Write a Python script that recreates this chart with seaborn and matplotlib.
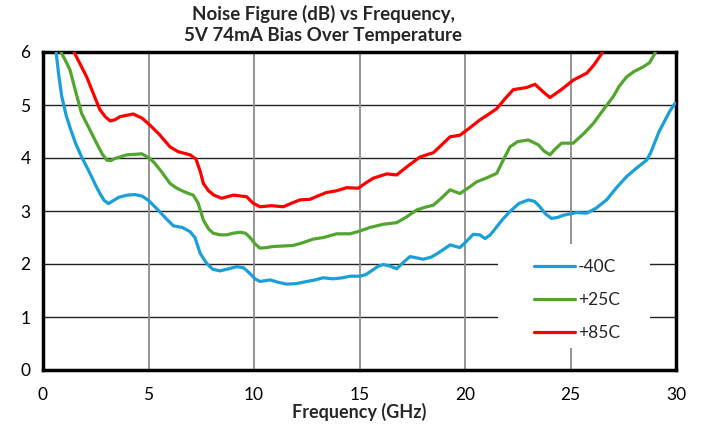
import numpy as np
import pandas as pd
import matplotlib.pyplot as plt
import matplotlib.patches as mpatches
import seaborn as sns

# ------------------------------------------------------------
# data (GHz, dB)
# ------------------------------------------------------------
freq_m40 = [0.55, 0.62, 0.75, 0.89, 1.1, 1.3, 1.55, 1.83, 2.05, 2.3, 2.5, 2.7, 2.9,
            3.1, 3.35, 3.6, 4.0, 4.36, 4.7, 5.0, 5.25, 5.5, 5.85, 6.18, 6.6,
            6.97, 7.2, 7.45, 7.76, 8.05, 8.39, 8.8, 9.18, 9.5, 9.81, 10.05, 10.28,
            10.76, 11.1, 11.55, 12.0, 12.5, 12.9, 13.28, 13.76, 14.2, 14.55, 15.02,
            15.3, 15.6, 15.9, 16.13, 16.45, 16.76, 17.05, 17.39, 18.02, 18.4, 18.7,
            19.0, 19.29, 19.76, 20.05, 20.39, 20.7, 20.95, 21.2, 21.5, 21.8, 22.13,
            22.55, 23.0, 23.3, 23.55, 23.8, 24.1, 24.4, 24.66, 25.29, 25.77, 26.2,
            26.71, 27.2, 27.66, 28.1, 28.61, 28.8, 29.0, 29.2, 29.4, 29.7, 29.95]
nf_m40 = [6.4, 6.0, 5.55, 5.16, 4.8, 4.55, 4.27, 4.02, 3.85, 3.65, 3.48, 3.33, 3.2,
          3.14, 3.2, 3.26, 3.3, 3.31, 3.28, 3.2, 3.1, 3.0, 2.85, 2.72, 2.69,
          2.61, 2.5, 2.2, 2.01, 1.9, 1.87, 1.91, 1.95, 1.93, 1.82, 1.72, 1.67,
          1.70, 1.66, 1.62, 1.63, 1.67, 1.7, 1.74, 1.72, 1.74, 1.77, 1.77,
          1.8, 1.88, 1.96, 1.99, 1.96, 1.91, 2.02, 2.14, 2.09, 2.13, 2.2,
          2.28, 2.36, 2.31, 2.42, 2.56, 2.55, 2.48, 2.55, 2.7, 2.85, 2.99,
          3.14, 3.21, 3.18, 3.08, 2.95, 2.86, 2.88, 2.92, 2.97, 2.96, 3.05,
          3.21, 3.45, 3.65, 3.8, 3.96, 4.1, 4.3, 4.5, 4.65, 4.88, 5.03]

freq_p25 = [0.75, 0.85, 1.05, 1.28, 1.55, 1.83, 2.2, 2.54, 2.8, 3.02, 3.2, 3.41,
            3.97, 4.4, 4.68, 5.07, 5.3, 5.6, 6.02, 6.3, 6.6, 6.9, 7.12, 7.35,
            7.6, 7.85, 8.07, 8.4, 8.71, 9.0, 9.34, 9.6, 9.81, 10.05, 10.28, 10.6,
            10.91, 11.4, 11.86, 12.3, 12.81, 13.3, 13.92, 14.55, 15.0, 15.5, 16.13,
            16.76, 17.2, 17.71, 18.1, 18.5, 18.9, 19.29, 19.76, 20.1, 20.55, 21.0,
            21.5, 21.8, 22.13, 22.5, 23.0, 23.47, 23.75, 24.03, 24.3, 24.58, 25.13,
            25.6, 26.08, 26.5, 27.03, 27.3, 27.66, 28.0, 28.45, 28.75, 29.0, 29.1]
nf_p25 = [6.3, 6.0, 5.85, 5.66, 5.25, 4.84, 4.55, 4.28, 4.08, 3.96, 3.95, 3.99,
          4.06, 4.07, 4.08, 3.99, 3.9, 3.75, 3.52, 3.44, 3.38, 3.33, 3.30, 3.15,
          2.83, 2.66, 2.58, 2.55, 2.55, 2.58, 2.60, 2.58, 2.50, 2.38, 2.30, 2.31,
          2.33, 2.34, 2.35, 2.4, 2.47, 2.5, 2.57, 2.57, 2.62, 2.69, 2.75,
          2.78, 2.88, 3.02, 3.07, 3.11, 3.25, 3.40, 3.33, 3.42, 3.55, 3.62,
          3.71, 3.95, 4.21, 4.31, 4.34, 4.25, 4.13, 4.06, 4.18, 4.28, 4.28,
          4.45, 4.65, 4.88, 5.16, 5.35, 5.53, 5.63, 5.72, 5.8, 5.97, 6.2]

freq_p85 = [1.35, 1.47, 1.75, 2.07, 2.4, 2.7, 2.95, 3.18, 3.4, 3.65, 4.28, 4.7,
            5.07, 5.5, 6.02, 6.4, 6.97, 7.25, 7.45, 7.6, 7.85, 8.1, 8.47, 9.02,
            9.65, 9.95, 10.28, 10.84, 11.39, 11.8, 12.18, 12.65, 13.0, 13.44, 13.9,
            14.39, 14.94, 15.3, 15.66, 16.29, 16.76, 17.3, 17.87, 18.5, 18.9, 19.29,
            19.76, 20.2, 20.71, 21.1, 21.5, 21.9, 22.29, 22.92, 23.32, 23.7, 24.03,
            24.6, 25.13, 25.77, 26.1, 26.48, 26.6]
nf_p85 = [6.3, 6.0, 5.78, 5.53, 5.2, 4.91, 4.78, 4.70, 4.72, 4.78, 4.83, 4.75,
          4.62, 4.45, 4.21, 4.12, 4.06, 3.98, 3.75, 3.52, 3.38, 3.30, 3.24, 3.30,
          3.27, 3.15, 3.08, 3.10, 3.08, 3.15, 3.21, 3.22, 3.28, 3.35, 3.38,
          3.44, 3.43, 3.53, 3.62, 3.70, 3.68, 3.85, 4.02, 4.10, 4.25, 4.40,
          4.43, 4.56, 4.72, 4.82, 4.93, 5.12, 5.29, 5.33, 5.39, 5.25, 5.14,
          5.3, 5.47, 5.60, 5.75, 5.97, 6.1]

labels = ['-40C', '+25C', '+85C']
colors = ['#1a9fd9', '#52a52e', '#ff0000']

# long-form tablo
df = pd.concat([
    pd.DataFrame({'freq': freq_m40, 'nf': nf_m40, 'temp': labels[0]}),
    pd.DataFrame({'freq': freq_p25, 'nf': nf_p25, 'temp': labels[1]}),
    pd.DataFrame({'freq': freq_p85, 'nf': nf_p85, 'temp': labels[2]}),
])

# ------------------------------------------------------------
# plot
# ------------------------------------------------------------
sns.set_style('white')
plt.rcParams['font.family'] = ['Lato', 'DejaVu Sans']

fig = plt.figure(figsize=(7.01, 4.32), dpi=100)
ax = fig.add_axes([43 / 701, 1 - 370 / 432, 633 / 701, 318 / 432])

# grid
for yv in range(0, 7):
    ax.axhline(yv, color='#222222', lw=1.0, zorder=1)
for xv in range(5, 30, 5):
    ax.axvline(xv, color='#8c8c8c', lw=1.3, zorder=1)

sns.lineplot(data=df, x='freq', y='nf', hue='temp', palette=colors,
             hue_order=labels, lw=2.3, ax=ax, legend=False, zorder=3,
             estimator=None, sort=False)

ax.set_xlim(0, 30)
ax.set_ylim(0, 6)
ax.set_xticks(range(0, 31, 5))
ax.set_yticks(range(0, 7))
ax.tick_params(length=0, labelsize=12.5, colors='black', pad=9)
ax.tick_params(axis='x', pad=12)
ax.set_xlabel('Frequency (GHz)', fontsize=13, fontweight='bold', labelpad=0)
ax.set_ylabel('')

for side in ['left', 'bottom', 'top', 'right']:
    ax.spines[side].set_visible(True)
    ax.spines[side].set_color('black')
    ax.spines[side].set_linewidth(2.5)

# legend alanı beyaz kutu
ax.add_patch(mpatches.Rectangle(((498 - 43) / 633, (370 - 348) / 318),
                                152 / 633, 104 / 318, transform=ax.transAxes,
                                facecolor='white', edgecolor='none', zorder=2))

handles = [plt.Line2D([], [], color=c, lw=2.3) for c in colors]
leg = ax.legend(handles, labels, loc='upper left',
                bbox_to_anchor=((533 - 43) / 633 - 0.012, (370 - 250) / 318),
                frameon=False, fontsize=12.5, handlelength=2.35,
                handletextpad=0.2, labelspacing=1.0, borderpad=0)
leg.set_zorder(5)

fig.text(323 / 701, 1 - 5 / 432,
         'Noise Figure (dB) vs Frequency,\n5V 74mA Bias Over Temperature',
         ha='center', va='top', fontsize=13.5, fontweight='bold',
         linespacing=1.25)

plt.savefig('out.png', dpi=100)
plt.close()
